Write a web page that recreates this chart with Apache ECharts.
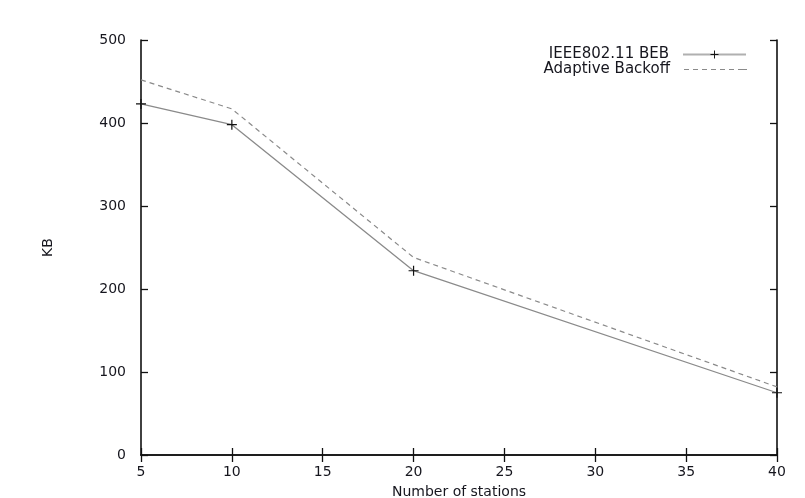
<!DOCTYPE html>
<html>
<head>
<meta charset="utf-8">
<script src="https://cdn.jsdelivr.net/npm/echarts@6/dist/echarts.min.js"></script>
<style>
  html, body { margin: 0; padding: 0; background: #fff; overflow: hidden; }
  #chart { width: 805px; height: 498px; }
</style>
</head>
<body>
<div id="chart"></div>
<script>
  // values
  const stations = [5, 10, 20, 40]
  const bebKB = [423, 398, 222, 75]
  const adaptiveKB = [452, 417, 238, 82]

  const font = 'DejaVu Sans, Liberation Sans, sans-serif'
  const textColor = '#16161e'
  const plus = 'path://M0,4.4h10v1.2h-10z M4.4,0h1.2v10h-1.2z'
  const dashes = 'path://M0,0h5v1.2h-5z M9,0h5v1.2h-5z M18,0h5v1.2h-5z M27,0h5v1.2h-5z M36,0h5v1.2h-5z M45,0h5v1.2h-5z M54,0h5v1.2h-5z M59,0h4v1.2h-4z'

  const chart = echarts.init(document.getElementById('chart'))

  const axisBase = {
    type: 'value',
    axisLine: { show: true, lineStyle: { color: '#111', width: 1.6 } },
    axisTick: { show: true, inside: true, length: 7, lineStyle: { color: '#111', width: 1.3 } },
    splitLine: { show: false }
  }

  const legendText = { fontFamily: font, fontSize: 15, color: textColor, padding: [0, 9, 0, 0] }

  chart.setOption({
    animation: false,
    backgroundColor: '#fff',
    grid: { left: 141, top: 40, width: 636, height: 415, outerBoundsMode: 'none', containLabel: false },
    legend: [
      {
        data: [{ name: 'IEEE802.11 BEB' }],
        right: 53,
        top: 42,
        align: 'right',
        itemWidth: 63,
        itemHeight: 10,
        lineStyle: { color: '#b0b0b0', width: 2 },
        textStyle: legendText
      },
      {
        data: [{ name: 'Adaptive Backoff', icon: dashes }],
        right: 53,
        top: 57,
        align: 'right',
        itemWidth: 63,
        itemHeight: 1.2,
        textStyle: legendText
      }
    ],
    xAxis: [
      Object.assign({}, axisBase, {
        min: 5, max: 40, interval: 5,
        name: 'Number of stations',
        nameLocation: 'middle',
        nameGap: 30,
        nameTextStyle: { fontFamily: font, fontSize: 14, color: textColor },
        axisLabel: { fontFamily: font, fontSize: 14, color: textColor, margin: 10 }
      }),
      Object.assign({}, axisBase, {
        position: 'top', min: 5, max: 40, interval: 5,
        axisLabel: { show: false }
      })
    ],
    yAxis: [
      Object.assign({}, axisBase, {
        min: 0, max: 500, interval: 100,
        name: 'KB',
        nameLocation: 'middle',
        nameGap: 86,
        nameTextStyle: { fontFamily: font, fontSize: 14, color: textColor },
        axisLabel: { fontFamily: font, fontSize: 14, color: textColor, margin: 15 }
      }),
      Object.assign({}, axisBase, {
        position: 'right', min: 0, max: 500, interval: 100,
        axisLabel: { show: false }
      })
    ],
    series: [
      {
        name: 'IEEE802.11 BEB',
        type: 'line',
        data: stations.map((x, i) => [x, bebKB[i]]),
        symbol: plus,
        symbolSize: 10,
        clip: false,
        itemStyle: { color: '#111' },
        lineStyle: { color: '#8a8a8a', width: 1.3 },
        z: 3
      },
      {
        name: 'Adaptive Backoff',
        type: 'line',
        data: stations.map((x, i) => [x, adaptiveKB[i]]),
        symbol: 'none',
        itemStyle: { color: '#8a8a8a' },
        lineStyle: { color: '#8a8a8a', width: 1.2, type: [5, 4] },
        z: 2
      }
    ]
  })
</script>
</body>
</html>
